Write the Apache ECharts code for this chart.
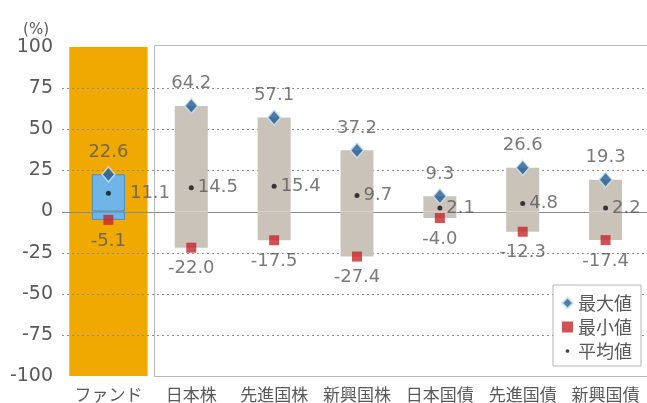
<!DOCTYPE html>
<html><head><meta charset="utf-8">
<script src="https://cdn.jsdelivr.net/npm/echarts@6/dist/echarts.min.js"></script>
<style>html,body{margin:0;padding:0;background:#fff;}#c{width:647px;height:403px;}</style>
</head><body><div id="c"></div>
<script>
const categories = ['ファンド','日本株','先進国株','新興国株','日本国債','先進国債','新興国債'];
const maxValues = [22.6, 64.2, 57.1, 37.2, 9.3, 26.6, 19.3];
const minValues = [-5.1, -22.0, -17.5, -27.4, -4.0, -12.3, -17.4];
const meanValues = [11.1, 14.5, 15.4, 9.7, 2.1, 4.8, 2.2];
const yTicks = [-100, -75, -50, -25, 0, 25, 50, 75, 100];
const fundBackground = [[0, 100, -100]]; // category index, top, bottom

const NUMFONT = '"DejaVu Sans", "Noto Sans CJK JP", sans-serif';
const JPFONT = '"Noto Sans CJK JP", "Noto Sans", sans-serif';
const TXT = '#595959';
const chart = echarts.init(document.getElementById('c'));

function rangeColor(i){ return i === 0 ? '#6fb5e8' : '#cac3b9'; }
const upData = maxValues.map((v,i)=>({value:v, itemStyle:{color:rangeColor(i), borderColor: i===0?'#4a8fc6':'rgba(0,0,0,0)', borderWidth: i===0?1:0}}));
const downData = minValues.map((v,i)=>({value:v, itemStyle:{color:rangeColor(i), borderColor: i===0?'#4a8fc6':'rgba(0,0,0,0)', borderWidth: i===0?1:0}}));
const meanData = meanValues.map((v,i)=>({value:v, label:{distance: i===0 ? 19 : 4}}));

const option = {
  animation: false,
  grid: {left: 67, right: -5, top: 47, bottom: 26, containLabel: false},
  xAxis: {
    type: 'category', data: categories,
    axisLine: {show: false}, axisTick: {show: false},
    axisLabel: {color: TXT, fontSize: 17, fontFamily: JPFONT, margin: 10, interval: 0},
    splitLine: {show: false}
  },
  yAxis: {
    type: 'value', min: -100, max: 100, interval: 25,
    name: '(%)', nameLocation: 'end', nameGap: 6,
    nameTextStyle: {color: TXT, fontSize: 15, fontFamily: NUMFONT, align: 'right', padding: [0, 18, 0, 0]},
    axisLine: {show: false}, axisTick: {show: false},
    axisLabel: {color: TXT, fontSize: 19, fontFamily: NUMFONT, margin: 14},
    splitLine: {show: false}
  },
  legend: {
    orient: 'vertical', right: 6, top: 285, z: 10,
    itemWidth: 11, itemHeight: 11, itemGap: 6,
    borderColor: '#b5b5b5', borderWidth: 1, backgroundColor: '#fff',
    padding: [9, 9, 6, 8],
    textStyle: {color: TXT, fontSize: 18, fontFamily: JPFONT},
    data: [
      {name: '最大値', icon: 'diamond'},
      {name: '最小値', icon: 'rect'},
      {name: '平均値', icon: 'path://M0,0 M10,10 M5,3.3 A1.7,1.7 0 1 1 5,6.7 A1.7,1.7 0 1 1 5,3.3 Z'}
    ]
  },
  series: [
    {type: 'custom', name: 'background', data: fundBackground, z: 1, silent: true, clip: false,
      encode: {x: 0, y: [1, 2]},
      renderItem: function (params, api) {
        const cs = params.coordSys;
        const top = api.coord([api.value(0), api.value(1)]);
        const bot = api.coord([api.value(0), api.value(2)]);
        const w = api.size([1, 0])[0] * 0.945;
        const children = [{
          type: 'rect',
          shape: {x: top[0] - w / 2, y: top[1], width: w, height: bot[1] - top[1]},
          style: {fill: '#f0a900'}
        }];
        yTicks.filter(v => Math.abs(v) !== 100).forEach(function (v) {
          const y = Math.round(api.coord([0, v])[1]) + 0.5;
          const isZero = v === 0;
          children.push({
            type: 'line',
            shape: {x1: cs.x - 5, y1: y, x2: cs.x + cs.width, y2: y},
            style: {stroke: isZero ? '#8a8a8a' : '#8c8c8c', lineWidth: 1, lineDash: isZero ? null : [2, 3]}
          });
        });
        return {type: 'group', children: children};
      }},
    {type: 'bar', name: 'up', data: upData, barWidth: 33, barGap: '-100%', z: 3, silent: true},
    {type: 'bar', name: 'down', data: downData, barWidth: 33, barGap: '-100%', z: 3, silent: true},
    {type: 'scatter', name: '最大値', data: maxValues, symbol: 'diamond', symbolSize: [13, 15], z: 5,
      itemStyle: {color: '#1f5b91', borderColor: '#cfe6f7', borderWidth: 1.5},
      label: {show: true, position: 'top', distance: 5, color: TXT, fontSize: 18, fontFamily: NUMFONT,
        formatter: p => p.value.toFixed(1)}},
    {type: 'scatter', name: '最小値', data: minValues, symbol: 'rect', symbolSize: 10, z: 5,
      itemStyle: {color: '#c6252b'},
      label: {show: true, position: 'bottom', distance: 7, color: TXT, fontSize: 18, fontFamily: NUMFONT,
        formatter: p => p.value.toFixed(1)}},
    {type: 'scatter', name: '平均値', data: meanData, symbol: 'circle', symbolSize: 5, z: 5,
      itemStyle: {color: '#111'},
      label: {show: true, position: 'right', color: TXT, fontSize: 18, fontFamily: NUMFONT,
        formatter: p => p.value.toFixed(1)}}
  ]
};
chart.setOption(option);

// panel border around the asset-class categories
const pTop = chart.convertToPixel({gridIndex: 0}, [1, 100]);
const pBot = chart.convertToPixel({gridIndex: 0}, [1, -100]);
const p0 = chart.convertToPixel({gridIndex: 0}, [0, 0]);
if (pTop && pBot && p0 && isFinite(pTop[0])) {
  const band = pTop[0] - p0[0];
  const leftX = Math.round(pTop[0] - band * 0.455) + 0.5;
  chart.setOption({
    graphic: [{
      type: 'rect', z: 0, silent: true,
      shape: {x: leftX, y: Math.round(pTop[1]) - 1.5, width: 700, height: Math.round(pBot[1] - pTop[1]) + 2},
      style: {fill: 'rgba(255,255,255,0)', stroke: '#b8b8b8', lineWidth: 1}
    }]
  });
}
</script></body></html>
